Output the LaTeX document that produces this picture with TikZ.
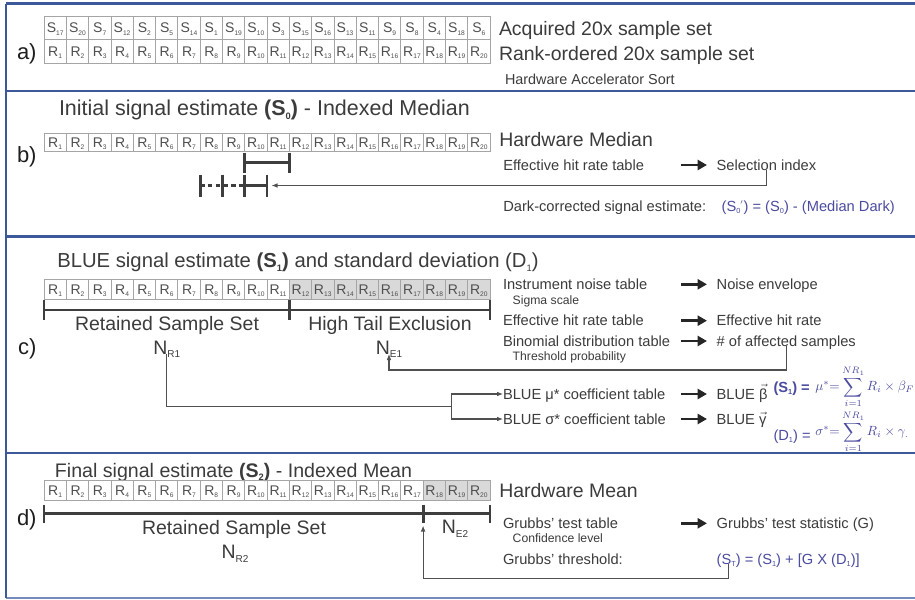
\documentclass[tikz,border=0pt]{standalone}
\usepackage{fontspec}
\usepackage{amsmath}
\setmainfont{Liberation Sans}
\usetikzlibrary{arrows.meta}

\definecolor{frame}{RGB}{60,90,155}
\definecolor{ink}{RGB}{60,60,60}
\definecolor{labelink}{RGB}{30,30,30}
\definecolor{cellgrid}{RGB}{165,165,165}
\definecolor{celltext}{RGB}{80,80,80}
\definecolor{shade}{RGB}{217,217,217}
\definecolor{eqblue}{RGB}{75,75,160}
\definecolor{barc}{RGB}{62,62,62}
\definecolor{connc}{RGB}{80,80,80}

% small lowered subscript: size, text
\newcommand\sub[2]{\raisebox{-0.35ex}{\fontsize{#1}{#1}\selectfont #2}}
\newcommand\fbig{\fontsize{14.6}{16}\selectfont}
\newcommand\fmid{\fontsize{11}{13}\selectfont}
\newcommand\fsmall{\fontsize{9.15}{11}\selectfont}
\newcommand\fcell{\fontsize{10.5}{12}\selectfont}
\newcommand\flabel{\fontsize{16.5}{18}\selectfont}

\begin{document}
\begin{tikzpicture}[x=0.75pt,y=-0.75pt,
  txt/.style={inner sep=0pt, outer sep=0pt, text depth=0pt, text=ink, anchor=west},
  big/.style={txt, font=\fbig, text height=10.5pt},
  mid/.style={txt, font=\fmid, text height=7.9pt},
  small/.style={txt, font=\fsmall, text height=6.6pt},
  eq/.style={mid, text=eqblue},
  lbl/.style={txt, font=\flabel, text height=11.9pt, text=labelink},
  ttl/.style={txt},
  cellbox/.style={draw=cellgrid, line width=0.5pt, inner sep=0pt, outer sep=0pt,
    minimum width=16.725pt, text=celltext, font=\fcell, text height=7.6pt, text depth=0pt},
  bar/.style={draw=barc, line width=2.2pt},
  dashbar/.style={bar, dash pattern=on 3.4pt off 2.4pt},
  conn/.style={draw=connc, line width=0.8pt},
  tip/.style={conn, -{Latex[length=4.5pt,width=3.5pt]}},
  fat/.style={draw=black!85, line width=2.2pt, -{Triangle[length=7pt,width=7.5pt]}, shorten >=7.3pt},
  frameline/.style={draw=frame, line width=1.6pt},
]
\useasboundingbox (0,0) rectangle (915,600);
\fill[white] (0,0) rectangle (915,600);

% ---------- panel frames ----------
\draw[frameline] (6,3.5) -- (915,3.5);
\draw[frameline] (6,91) -- (915,91);
\draw[frameline] (6,236.5) -- (915,236.5);
\draw[frameline] (6,453.3) -- (915,453.3);
\draw[frameline, draw=frame!70] (6,598) -- (915,598);
\draw[frameline] (6,3.5) -- (6,598);

\coordinate (fatx) at (681,0);

% ---------- a) sort ----------
\node[lbl] (la) at (17,51.7) {a)};
\foreach \s [count=\i] in {17,20,7,12,2,5,14,1,19,10,3,15,16,13,11,9,8,4,18,6} {
  \node[cellbox, minimum height=17.625pt] (sa\i) at ({44+(\i-0.5)*22.3},27.75) {S\sub{5}{\s}};
  \node[cellbox, minimum height=17.625pt] (ra\i) at ({44+(\i-0.5)*22.3},51.25) {R\sub{5}{\i}};
}
\node[big] (acq) at (499,28) {Acquired 20x sample set};
\node[big] (rank) at (499,53) {Rank-ordered 20x sample set};
\node[txt, font=\fontsize{10.8}{12}\selectfont, text height=7.7pt] (hwsort) at (505,79) {Hardware Accelerator Sort};

% ---------- b) median ----------
\node[lbl] (lb) at (17,155) {b)};
\node[ttl, font=\fontsize{16.1}{18}\selectfont, text height=11.6pt] (tb) at (59,108)
  {Initial signal estimate \textbf{(S\sub{7}{0})} - Indexed Median};
\foreach \i in {1,...,20}
  \node[cellbox, minimum height=13.5pt] (rb\i) at ({44+(\i-0.5)*22.3},142) {R\sub{5}{\i}};
\node[big] (hwmed) at (499.3,139.3) {Hardware Median};
\node[mid] (ehrb) at (503.3,165) {Effective hit rate table};
\node[mid] (selidx) at (716.7,165) {Selection index};
\draw[fat] (selidx.west -| fatx) -- (selidx.west);
\node[mid] (darkc) at (503.3,206) {Dark-corrected signal estimate:};
\node[eq] (darkeq) at (721.7,206)
  {(S\sub{5.5}{0}\raisebox{0.3ex}{\fontsize{7}{7}\selectfont\kern-0.3pt$'$}) = (S\sub{5.5}{0}) - (Median Dark)};

% median window bars
\draw[bar] (244.7,162.7) -- (289.3,162.7);
\draw[bar] (244.7,152.7) -- (244.7,172.7);
\draw[bar] (289.3,152.7) -- (289.3,172.7);
\draw[dashbar] (200.1,185.5) -- (244.7,185.5);
\draw[bar] (244.7,185.5) -- (267,185.5);
\foreach \x in {200.1,222.4,244.7,267}
  \draw[bar] (\x,174.5) -- (\x,196.5);
\coordinate (bEnd) at (271.5,185.5);
\draw[tip] (selidx.south) |- (bEnd);

% ---------- c) BLUE ----------
\node[lbl] (lc) at (18,346.7) {c)};
\node[ttl, font=\fontsize{15.2}{17}\selectfont, text height=10.9pt] (tc) at (57.3,260)
  {BLUE signal estimate \textbf{(S\sub{7}{1})} and standard deviation (D\sub{7}{1})};
\foreach \i in {1,...,11}
  \node[cellbox, minimum height=15pt] (rc\i) at ({44+(\i-0.5)*22.3},289) {R\sub{5}{\i}};
\foreach \i in {12,...,20}
  \node[cellbox, minimum height=15pt, fill=shade] (rc\i) at ({44+(\i-0.5)*22.3},289) {R\sub{5}{\i}};

\draw[bar] (44,310) -- (490,310);
\foreach \x in {44,289.3,490}
  \draw[bar] (\x,300) -- (\x,320);
\node[big, anchor=center] (retc) at (167,323) {Retained Sample Set};
\node[big, anchor=center] (htex) at (390,323) {High Tail Exclusion};
\node[big, anchor=center] (nr1) at (166.7,347) {N\sub{7.5}{R1}};
\node[big, anchor=center] (ne1) at (389,347) {N\sub{7.5}{E1}};

\node[mid] (inoise) at (503,284.3) {Instrument noise table};
\node[small] (sigsc) at (512.7,300) {Sigma scale};
\node[mid] (ehrc) at (503,320.7) {Effective hit rate table};
\node[mid] (binom) at (503,341) {Binomial distribution table};
\node[small] (thrp) at (512.7,355.7) {Threshold probability};
\node[mid] (nenv) at (716.7,284.3) {Noise envelope};
\node[mid] (ehr) at (716.7,320.7) {Effective hit rate};
\node[mid] (aff) at (716.7,341) {\# of affected samples};
\draw[fat] (nenv.west -| fatx) -- (nenv.west);
\draw[fat] (ehr.west -| fatx) -- (ehr.west);
\draw[fat] (aff.west -| fatx) -- (aff.west);
\coordinate (cLow) at (0,370);
\draw[tip] (aff.south) -- (aff.south |- cLow) -| (ne1.south);

\node[mid] (mutab) at (503,394) {BLUE μ* coefficient table};
\node[mid] (sigtab) at (503,419) {BLUE σ* coefficient table};
\node[mid] (bbeta) at (716.7,394) {BLUE \raisebox{0pt}[0pt][0pt]{$\vec{\text{β}}$}};
\node[mid] (bgam) at (716.7,419) {BLUE \raisebox{0pt}[0pt][0pt]{$\vec{\text{γ}}$}};
\draw[fat] (bbeta.west -| fatx) -- (bbeta.west);
\draw[fat] (bgam.west -| fatx) -- (bgam.west);
\coordinate (jn) at (451.7,406.7);
\draw[conn] (nr1.south) |- (jn);
\draw[tip] (jn) |- (mutab.west);
\draw[tip] (jn) |- (sigtab.west);

\node[eq, font=\fmid\bfseries] (s1lab) at (773.5,387) {(S\sub{5.5}{1}) =};
\node[inner sep=0pt, anchor=west, text=eqblue] (s1eq) at (815,387)
  {\fontsize{10}{11}\selectfont$\displaystyle \mu^{*}{=}\sum_{i=1}^{NR_1} R_i\times\beta_{F}$};
\node[eq] (d1lab) at (773.5,435) {(D\sub{5.5}{1}) =};
\node[inner sep=0pt, anchor=west, text=eqblue] (d1eq) at (815,432)
  {\fontsize{10}{11}\selectfont$\displaystyle \sigma^{*}{=}\sum_{i=1}^{NR_1} R_i\times\gamma_{.}$};

% ---------- d) mean ----------
\node[lbl] (ld) at (17,517.3) {d)};
\node[ttl, font=\fontsize{14.7}{16}\selectfont, text height=10.6pt] (td) at (55,470)
  {Final signal estimate \textbf{(S\sub{7}{2})} - Indexed Mean};
\foreach \i in {1,...,17}
  \node[cellbox, minimum height=15pt] (rd\i) at ({44+(\i-0.5)*22.3},490) {R\sub{5}{\i}};
\foreach \i in {18,19,20}
  \node[cellbox, minimum height=15pt, fill=shade] (rd\i) at ({44+(\i-0.5)*22.3},490) {R\sub{5}{\i}};
\node[big] (hwmean) at (499.3,490) {Hardware Mean};

\draw[bar] (44,513.3) -- (490,513.3);
\foreach \x in {44,423.1,490}
  \draw[bar] (\x,504.5) -- (\x,522.5);
\node[big, anchor=center] (retd) at (234,527.3) {Retained Sample Set};
\node[big, anchor=center] (nr2) at (235,551.7) {N\sub{7.5}{R2}};
\node[big, anchor=center] (ne2) at (455,526.7) {N\sub{7.5}{E2}};

\node[mid] (grt) at (503,523.3) {Grubbs’ test table};
\node[small] (conf) at (512.7,538.3) {Confidence level};
\node[mid] (grth) at (503,559) {Grubbs’ threshold:};
\node[mid] (grstat) at (716.7,523.3) {Grubbs’ test statistic (G)};
\draw[fat] (grstat.west -| fatx) -- (grstat.west);
\node[eq] (sT) at (716.7,559) {(S\sub{5.5}{T})};
\node[eq] (sTrest) at (sT.east) {\ = (S\sub{5.5}{1}) + [G X (D\sub{5.5}{1})]};
\coordinate (dLow) at (0,578.3);
\coordinate (dTip) at (423.1,525.5);
\draw[tip] (sT.south) -- (sT.south |- dLow) -| (dTip);
\end{tikzpicture}
\end{document}
